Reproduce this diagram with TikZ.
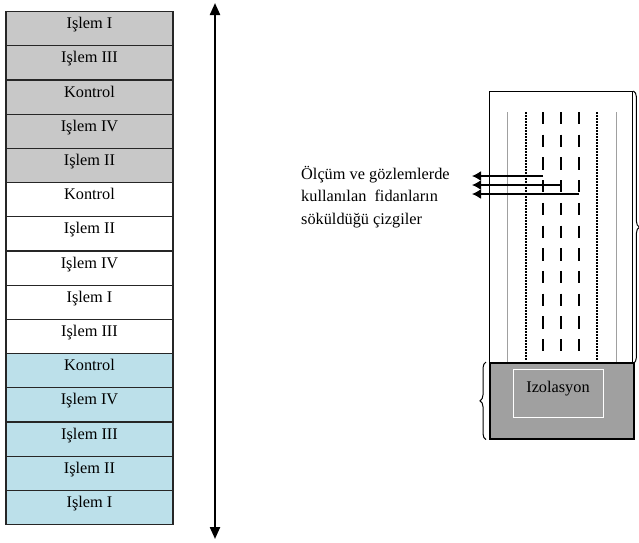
\documentclass[tikz,border=0pt]{standalone}
\usepackage{fontspec}
\setmainfont{Liberation Serif}
\usetikzlibrary{arrows.meta, positioning, decorations.pathreplacing}
\definecolor{rowgray}{RGB}{200,200,200}
\definecolor{rowblue}{RGB}{188,224,234}
\definecolor{isogray}{RGB}{160,160,160}
\definecolor{linegray}{RGB}{160,160,160}

\begin{document}
\begin{tikzpicture}[x=1pt, y=-1pt,
    plot/.style={rectangle, draw=black!85, line width=1.2pt, minimum width=167pt, minimum height=34.2pt, inner sep=0pt, text height=17pt, text depth=17.2pt, anchor=north, font=\fontsize{16.3}{19}\selectfont},
    row line/.style={line width=2.8pt, dash pattern=on 12.3pt off 10.4pt},
    dot line/.style={line width=2.2pt, dash pattern=on 1.5pt off 1.5pt},
    guide/.style={linegray, line width=1pt},
    arrow/.style={-{Latex[length=9pt, width=10pt]}, line width=1.5pt}
]
\useasboundingbox (0,0) rectangle (639,542);

% ==== Field plots ====
\foreach \i/\lbl/\col in {0/Işlem I/rowgray, 1/Işlem III/rowgray, 2/Kontrol/rowgray, 3/Işlem IV/rowgray, 4/Işlem II/rowgray, 5/Kontrol/white, 6/Işlem II/white, 7/Işlem IV/white, 8/Işlem I/white, 9/Işlem III/white, 10/Kontrol/rowblue, 11/Işlem IV/rowblue, 12/Işlem III/rowblue, 13/Işlem II/rowblue, 14/Işlem I/rowblue}
  \node[plot, fill=\col] (plot\i) at (89.5, {11+34.2*\i}) {\lbl};

% ==== Direction arrow ====
\coordinate (top) at (215,3);
\coordinate (bottom) at (215,539);
\draw[{Triangle[length=12pt,width=10pt]}-{Triangle[length=12pt,width=10pt]}, line width=2.2pt] (top) -- (bottom);

% ==== Seedling bed ====
\node[rectangle, draw, line width=1.4pt, minimum width=143pt, minimum height=271pt, anchor=north west, inner sep=0pt] (bed) at (489,91) {};
\foreach \x in {507,616}
  \draw[guide] (\x,112) -- (\x,362);
\foreach \x in {526,597}
  \draw[dot line] (\x,112) -- (\x,361);
\foreach \x in {543,561,579}
  \draw[row line] (\x,112) -- (\x,351);
\draw[decorate, decoration={brace, amplitude=6pt}, line width=1pt] (bed.north east) -- (bed.south east);

% ==== Isolation strip ====
\node[rectangle, draw, line width=1.6pt, fill=isogray, minimum width=144pt, minimum height=76pt, anchor=north west, inner sep=0pt] (iso) at (489,362) {};
\node[rectangle, draw=white, line width=1pt, minimum width=90pt, minimum height=48pt, inner sep=0pt, text height=23pt, text depth=25pt, anchor=north, font=\fontsize{16.3}{19}\selectfont] (isolabel) at (558,369) {Izolasyon};
\draw[decorate, decoration={brace, amplitude=6pt}, line width=1pt] ([xshift=-3pt]iso.south west) -- ([xshift=-3pt]iso.north west);

% ==== Sampled rows ====
\node[anchor=north west, align=left, inner sep=0pt, font=\fontsize{16.3}{22.5}\selectfont] (note) at (301,166) {Ölçüm ve gözlemlerde\\kullanılan~ fidanların\\söküldüğü çizgiler};
\coordinate (row1) at (543,176);
\coordinate (row2) at (561,185);
\coordinate (row3) at (579,194);
\coordinate (tip1) at (472,176);
\coordinate (tip2) at (472,185);
\coordinate (tip3) at (472,194);
\draw[arrow] (row1) -- (tip1);
\draw[arrow] (row2) -- (tip2);
\draw[arrow] (row3) -- (tip3);

\end{tikzpicture}
\end{document}
